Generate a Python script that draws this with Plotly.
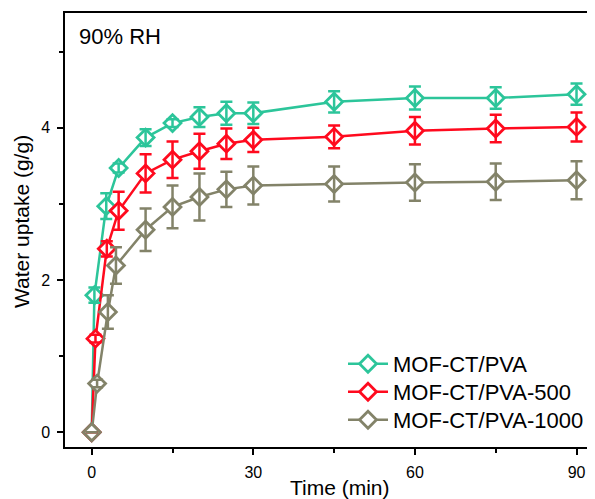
import plotly.graph_objects as go

# Data
names = ["MOF-CT/PVA", "MOF-CT/PVA-500", "MOF-CT/PVA-1000"]
colors = ["#2CC59A", "#FF0A1E", "#838369"]

time_teal = [0, 0.5, 2.7, 5, 10, 15, 20, 25, 30, 45, 60, 75, 90]
time_red = [0, 0.7, 2.8, 5, 10, 15, 20, 25, 30, 45, 60, 75, 90]
time_gray = [0, 1, 3, 4.5, 10, 15, 20, 25, 30, 45, 60, 75, 90]

uptake_teal = [0, 1.80, 2.97, 3.47, 3.87, 4.06, 4.14, 4.19, 4.19, 4.34, 4.39, 4.39, 4.44]
uptake_red = [0, 1.23, 2.41, 2.91, 3.40, 3.58, 3.69, 3.79, 3.84, 3.88, 3.96, 3.99, 4.01]
uptake_gray = [0, 0.64, 1.58, 2.19, 2.66, 2.96, 3.09, 3.19, 3.24, 3.26, 3.28, 3.29, 3.31]

err_teal = [0, 0.10, 0.17, 0.06, 0.11, 0.05, 0.13, 0.15, 0.14, 0.14, 0.15, 0.14, 0.14]
err_red = [0, 0.05, 0.10, 0.25, 0.25, 0.24, 0.23, 0.20, 0.16, 0.15, 0.18, 0.18, 0.19]
err_gray = [0, 0.05, 0.22, 0.24, 0.28, 0.28, 0.31, 0.23, 0.25, 0.23, 0.24, 0.24, 0.25]

x_ticks = [0, 30, 60, 90]
y_ticks = [0, 2, 4]

xs = [time_teal, time_red, time_gray]
ys = [uptake_teal, uptake_red, uptake_gray]
es = [err_teal, err_red, err_gray]

FONT = "Arial, Liberation Sans, sans-serif"
OFF = 8  # default page body margin: the figure starts 8px right/down in the window
W, H = 595 - OFF, 499 - OFF
ML, MR, MT = 65 - OFF, 0, 13 - OFF
PLOT_BOTTOM = 447 - OFF
MB = H - PLOT_BOTTOM
PH = H - MT - MB
PW = W - ML - MR


def px(sx):
    return (sx - OFF - ML) / PW


def py(sy):
    return (PLOT_BOTTOM - (sy - OFF)) / PH


legend_ids = ["legend", "legend2", "legend3"]
legend_rows = [364, 392, 420]

fig = go.Figure()
for name, c, x, y, lid in zip(names, colors, xs, ys, legend_ids):
    fig.add_trace(go.Scatter(
        x=x, y=y, name=name, mode="lines+markers", legend=lid,
        line=dict(color=c, width=2.5),
        marker=dict(symbol="diamond", size=13, color="white",
                    line=dict(color=c, width=2.8)),
    ))
# error bars drawn on top of the markers
for c, x, y, e in zip(colors, xs, ys, es):
    fig.add_trace(go.Scatter(
        x=x, y=y, mode="markers", showlegend=False, hoverinfo="skip",
        marker=dict(size=2, opacity=0),
        error_y=dict(type="data", array=e, visible=True, color=c,
                     thickness=2.5, width=6),
    ))

legend_style = dict(xanchor="left", yanchor="middle", font=dict(size=22, family=FONT),
                    bgcolor="rgba(0,0,0,0)", itemwidth=40)
layout_legends = {}
for lid, row in zip(legend_ids, legend_rows):
    layout_legends[lid] = dict(x=px(343), y=py(row), **legend_style)

fig.update_layout(
    width=W, height=H,
    margin=dict(l=ML, r=MR, t=MT, b=MB, autoexpand=False),
    plot_bgcolor="white", paper_bgcolor="white",
    font=dict(family=FONT, size=16, color="black"),
    showlegend=True,
    annotations=[
        dict(text="90% RH", x=px(77), y=py(36), xref="paper", yref="paper",
             xanchor="left", yanchor="middle", showarrow=False,
             font=dict(size=22, family=FONT)),
        dict(text="Time (min)", x=px(340), y=py(487), xref="paper", yref="paper",
             xanchor="center", yanchor="middle", showarrow=False,
             font=dict(size=21, family=FONT)),
        dict(text="Water uptake (g/g)", x=px(21), y=py(222), xref="paper", yref="paper",
             xanchor="center", yanchor="middle", showarrow=False, textangle=-90,
             font=dict(size=21, family=FONT)),
    ],
    **layout_legends,
)
fig.update_xaxes(
    range=[-4.96, 93.43], tickvals=x_ticks,
    showline=True, linecolor="black", linewidth=1.5, mirror=True,
    ticks="outside", ticklen=6, tickwidth=1.5, tickcolor="black",
    minor=dict(tickvals=[15, 45, 75], ticks="outside", ticklen=4, tickwidth=1.5, tickcolor="black"),
    showgrid=False, zeroline=False, automargin=False,
    tickfont=dict(size=16), ticklabelstandoff=4,
)
fig.update_yaxes(
    range=[-0.193, 5.506], tickvals=y_ticks,
    showline=True, linecolor="black", linewidth=1.5, mirror=False,
    ticks="outside", ticklen=6, tickwidth=1.5, tickcolor="black",
    minor=dict(tickvals=[1, 3, 5], ticks="outside", ticklen=4, tickwidth=1.5, tickcolor="black"),
    showgrid=False, zeroline=False, automargin=False,
    tickfont=dict(size=16), ticklabelstandoff=4,
)

fig.write_html("out.html")
